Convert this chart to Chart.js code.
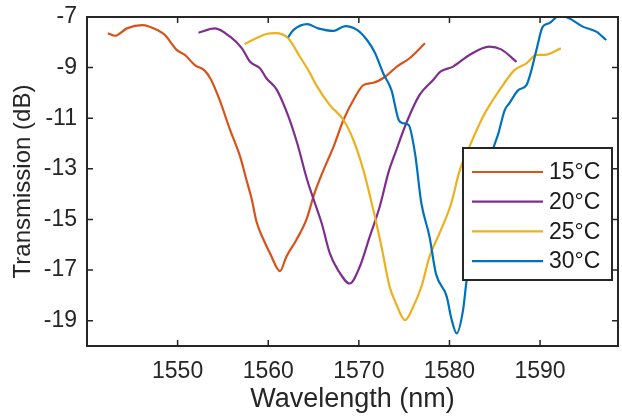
<!DOCTYPE html><html><head>
    <meta charset="utf-8">
    <title>Transmission vs wavelength</title>
    <style>
        html, body { margin: 0; padding: 0; background: #ffffff; }
        #wrap { width: 622px; height: 416px; }
    </style>
</head>
<body>
    <div id="wrap"><canvas id="chart" width="622" height="416"></canvas></div>
    <script src="https://cdn.jsdelivr.net/npm/chart.js"></script>
    <script>
        // series: wavelength (nm) and transmission (dB)
        const labels = ['15°C', '20°C', '25°C', '30°C'];
        const colors = ['#D95319', '#7E2F8E', '#EDB120', '#0072BD'];

        const wl15 = [1542.3, 1543.1, 1544.4, 1546.1, 1547.9, 1548.6, 1549.9, 1550.8, 1551.9, 1552.9, 1553.6, 1554.5, 1555.8, 1556.9, 1557.6, 1558.2, 1558.7, 1559.5, 1560.2, 1561.3, 1562.0, 1563.1, 1564.2, 1565.1, 1566.1, 1567.2, 1568.3, 1569.6, 1570.5, 1571.6, 1572.9, 1574.2, 1575.6, 1577.3];
        const tr15 = [-7.64, -7.74, -7.45, -7.32, -7.54, -7.71, -8.30, -8.50, -8.90, -9.09, -9.42, -10.15, -11.47, -12.52, -13.44, -14.23, -15.08, -15.81, -16.34, -17.04, -16.47, -15.81, -15.02, -13.97, -13.05, -12.13, -11.07, -10.15, -9.69, -9.60, -9.36, -8.96, -8.63, -8.04];

        const wl20 = [1552.3, 1554.1, 1555.8, 1557.1, 1558.0, 1559.1, 1559.8, 1560.9, 1562.1, 1563.2, 1564.3, 1565.1, 1565.9, 1566.8, 1567.7, 1569.0, 1570.1, 1571.2, 1572.3, 1573.3, 1574.0, 1575.3, 1576.7, 1578.2, 1579.0, 1580.4, 1582.2, 1584.4, 1585.7, 1587.4];
        const tr20 = [-7.62, -7.45, -7.78, -8.24, -8.77, -9.03, -9.42, -9.85, -10.81, -11.99, -13.44, -14.30, -15.15, -16.34, -17.00, -17.53, -16.87, -15.68, -14.50, -13.10, -12.39, -11.14, -10.08, -9.49, -9.16, -8.96, -8.50, -8.17, -8.28, -8.77];

        const wl25 = [1557.4, 1558.6, 1559.8, 1560.8, 1562.2, 1563.5, 1564.5, 1565.4, 1566.8, 1568.3, 1569.4, 1570.5, 1571.6, 1572.5, 1573.4, 1574.1, 1575.1, 1576.0, 1576.9, 1577.8, 1578.9, 1580.2, 1581.1, 1582.2, 1583.7, 1584.8, 1585.9, 1587.2, 1588.5, 1589.6, 1590.5, 1592.3];
        const tr25 = [-8.07, -7.85, -7.67, -7.64, -7.84, -8.57, -9.15, -9.75, -10.48, -11.07, -11.86, -13.05, -14.63, -16.08, -17.66, -18.32, -18.98, -18.45, -17.66, -16.47, -15.55, -14.36, -13.10, -12.13, -10.94, -10.28, -9.69, -9.09, -8.83, -8.50, -8.50, -8.24];

        const wl30 = [1562.2, 1562.8, 1564.3, 1565.5, 1567.2, 1568.5, 1569.8, 1570.9, 1571.8, 1572.7, 1573.6, 1574.4, 1574.9, 1575.5, 1576.2, 1576.9, 1577.8, 1578.5, 1579.7, 1580.2, 1580.8, 1581.5, 1581.9, 1582.6, 1583.5, 1584.8, 1585.4, 1586.1, 1586.6, 1587.6, 1588.5, 1589.0, 1589.6, 1590.3, 1591.0, 1592.1, 1593.2, 1594.7, 1596.2, 1597.3];
        const tr30 = [-7.80, -7.51, -7.28, -7.45, -7.55, -7.36, -7.51, -7.91, -8.43, -9.23, -9.89, -11.07, -11.20, -11.27, -12.39, -14.36, -15.68, -17.13, -18.05, -18.90, -19.50, -18.58, -17.40, -16.20, -14.60, -12.26, -11.60, -10.68, -10.41, -9.89, -9.69, -9.16, -8.30, -7.38, -7.25, -6.95, -7.05, -7.38, -7.58, -7.91];

        const xTicks = [1550, 1560, 1570, 1580, 1590];
        const yTicks = [-19, -17, -15, -13, -11, -9, -7];

        const wls = [wl15, wl20, wl25, wl30];
        const trs = [tr15, tr20, tr25, tr30];

        const FONT = "'Liberation Sans', Arial, Helvetica, sans-serif";
        const AXIS = '#262626';

        const datasets = labels.map(function(lab, i) {
            return {
                label: lab,
                data: wls[i].map(function(x, j) { return {x: x, y: trs[i][j]}; }),
                borderColor: colors[i],
                backgroundColor: colors[i],
                borderWidth: 2.2,
                pointRadius: 0,
                cubicInterpolationMode: 'monotone',
                fill: false,
                order: labels.length - i
            };
        });

        // MATLAB style box with inward ticks and an inset legend
        const frame = {
            id: 'frame',
            afterDatasetsDraw(chart) {
                const ctx = chart.ctx;
                const a = chart.chartArea;
                const xs = chart.scales.x, ys = chart.scales.y;
                ctx.save();
                ctx.strokeStyle = AXIS;
                ctx.lineWidth = 2;
                ctx.strokeRect(a.left, a.top, a.right - a.left, a.bottom - a.top);
                ctx.lineWidth = 1.5;
                ctx.beginPath();
                xTicks.forEach(function(v) {
                    const p = xs.getPixelForValue(v);
                    ctx.moveTo(p, a.bottom); ctx.lineTo(p, a.bottom - 6);
                    ctx.moveTo(p, a.top); ctx.lineTo(p, a.top + 6);
                });
                yTicks.forEach(function(v) {
                    const p = ys.getPixelForValue(v);
                    ctx.moveTo(a.left, p); ctx.lineTo(a.left + 6, p);
                    ctx.moveTo(a.right, p); ctx.lineTo(a.right - 6, p);
                });
                ctx.stroke();

                // legend
                const bx = a.right - 155, by = a.top + 131, bw = 149, bh = 132;
                ctx.fillStyle = '#ffffff';
                ctx.fillRect(bx, by, bw, bh);
                ctx.lineWidth = 2;
                ctx.strokeRect(bx, by, bw, bh);
                ctx.font = '23px ' + FONT;
                ctx.textBaseline = 'middle';
                ctx.textAlign = 'left';
                chart.data.datasets.forEach(function(ds, i) {
                    const yy = by + 24 + i * 29.7;
                    ctx.strokeStyle = ds.borderColor;
                    ctx.lineWidth = 2.2;
                    ctx.beginPath();
                    ctx.moveTo(bx + 9, yy); ctx.lineTo(bx + 80, yy);
                    ctx.stroke();
                    ctx.fillStyle = '#1a1a1a';
                    ctx.fillText(ds.label, bx + 86, yy + 1);
                });
                ctx.restore();
            }
        };

        const ctx = document.getElementById('chart').getContext('2d');
        Chart.defaults.font.family = FONT;
        Chart.defaults.color = '#262626';
        new Chart(ctx, {
            type: 'line',
            data: { datasets: datasets },
            options: {
                responsive: false,
                animation: false,
                layout: { padding: { top: 17, right: 4, left: 0, bottom: 0 } },
                plugins: {
                    legend: { display: false },
                    tooltip: { enabled: false }
                },
                scales: {
                    x: {
                        type: 'linear',
                        min: 1540,
                        max: 1598.6,
                        afterBuildTicks: function(s) { s.ticks = xTicks.map(function(v) { return {value: v}; }); },
                        afterFit: function(s) { s.height = 70; s.paddingLeft = 0; s.paddingRight = 0; },
                        grid: { display: false, drawTicks: false },
                        border: { display: false },
                        ticks: { font: { size: 23 }, padding: 12, color: '#262626', maxRotation: 0,
                                 callback: function(v) { return String(v); } },
                        title: { display: true, text: 'Wavelength (nm)', font: { size: 27 }, padding: 0, color: '#262626' }
                    },
                    y: {
                        type: 'linear',
                        min: -20,
                        max: -7,
                        afterBuildTicks: function(s) { s.ticks = yTicks.map(function(v) { return {value: v}; }); },
                        afterFit: function(s) { s.width = 87; s.paddingTop = 0; s.paddingBottom = 0; },
                        grid: { display: false, drawTicks: false },
                        border: { display: false },
                        ticks: { font: { size: 23 }, padding: 10, color: '#262626',
                                 callback: function(v) { return String(v); } },
                        title: { display: true, text: 'Transmission (dB)', font: { size: 24 }, padding: { top: 9, bottom: 0 }, color: '#262626' }
                    }
                }
            },
            plugins: [frame]
        });
    </script>
</body></html>
